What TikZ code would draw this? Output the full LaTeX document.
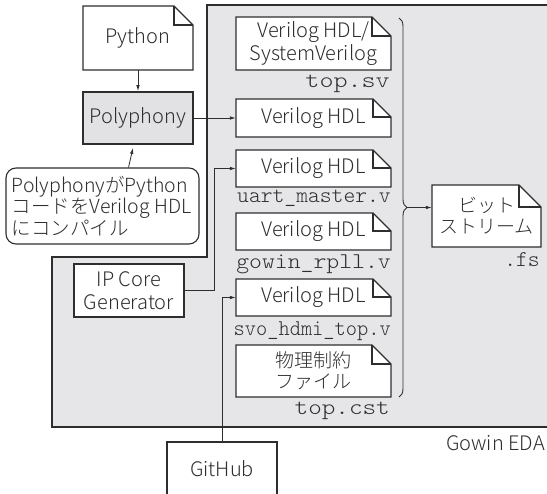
\documentclass[tikz,border=0pt]{standalone}
\usepackage{fontspec}
\setmainfont{Noto Sans CJK JP}[UprightFont=* Light]
\setmonofont{lmmonolt10-regular.otf}
\usetikzlibrary{arrows.meta,decorations.pathreplacing,calc}
\definecolor{edagray}{HTML}{E6E6E8}
\definecolor{polygray}{HTML}{E2E2E4}
\definecolor{ink}{HTML}{2E2E2E}
\tikzset{
  txt/.style={text=ink, font=\fontsize{20}{23}\selectfont, align=center, inner sep=0pt},
  jtxt/.style={text=ink, font=\fontsize{19}{21}\selectfont, align=center, inner sep=0pt},
  mono/.style={text=ink, font=\ttfamily\fontsize{22.5}{24}\selectfont, inner sep=0pt},
  docline/.style={draw=ink, line width=1.1pt, line join=miter},
  boxnode/.style={draw=ink, line width=1.3pt, fill=white},
  conn/.style={draw=ink, line width=0.8pt, -{Latex[length=6pt,width=3.6pt]}},
}
% #1 name, #2 cx, #3 cy, #4 w, #5 h, #6 fold, #7 style, #8 text
\newcommand\docnode[8]{%
  \path[docline, fill=white] ({#2-#4/2},{#3-#5/2}) -- ({#2+#4/2-#6},{#3-#5/2})
     -- ({#2+#4/2},{#3-#5/2+#6}) -- ({#2+#4/2},{#3+#5/2}) -- ({#2-#4/2},{#3+#5/2}) -- cycle;
  \draw[docline] ({#2+#4/2-#6},{#3-#5/2}) -- ({#2+#4/2-#6},{#3-#5/2+#6}) -- ({#2+#4/2},{#3-#5/2+#6});
  \node[#7, minimum width=#4, minimum height=#5] (#1) at (#2,#3) {#8};
}
\begin{document}
\begin{tikzpicture}[x=1pt,y=-1pt]
\useasboundingbox (0,0) rectangle (547,494);
\clip (0,0) rectangle (547,494);
% Gowin EDA region
\path[fill=edagray, draw=ink, line width=1.6pt]
  (207,5) -- (560,5) -- (560,427) -- (52,427) -- (52,257) -- (207,257) -- cycle;
\node[txt, anchor=east] (eda) at (545,443) {Gowin EDA};

% left side
\docnode{py}{138}{38}{110}{64}{19}{txt}{Python}
\node[boxnode, fill=polygray, line width=1.8pt, minimum width=110, minimum height=52, txt] (poly) at (138,118) {Polyphony};
\node[draw=ink, line width=1.1pt, rounded corners=10pt, fill=white, minimum width=193, minimum height=76] (call) at (102.5,206) {};
\node[txt, anchor=west, align=left, font=\fontsize{19.5}{20}\selectfont] at (call.west) {\hspace{6pt}PolyphonyがPython\\\hspace{6pt}コードをVerilog HDL\\\hspace{6pt}にコンパイル};
\node[boxnode, minimum width=110, minimum height=53, txt] (ip) at (129,290.5) {IP Core\\Generator};
\node[boxnode, minimum width=110, minimum height=54, txt] (gh) at (222,469) {GitHub};

% files
\docnode{d1}{313.5}{43.5}{155}{53}{19}{txt}{Verilog HDL/\\SystemVerilog}
\docnode{d2}{313.5}{118}{155}{38}{18}{txt}{Verilog HDL}
\docnode{d3}{313.5}{168.5}{155}{37}{18}{txt}{Verilog HDL}
\docnode{d4}{313.5}{231.5}{155}{37}{18}{txt}{Verilog HDL}
\docnode{d5}{313.5}{297.5}{155}{37}{18}{txt}{Verilog HDL}
\docnode{d6}{313.5}{371}{155}{52}{19}{jtxt}{物理制約\\ファイル}
\docnode{bit}{486.5}{216}{109}{62}{22}{jtxt}{ビット\\ストリーム}

% file name labels
\node[mono, anchor=base east] (l1) at (390,88) {\scalebox{1.19}[1]{top.sv}};
\node[mono, anchor=base east] (l3) at (391,203) {uart\_master.v};
\node[mono, anchor=base east] (l4) at (391,269) {\scalebox{1.09}[1]{gowin\_rpll.v}};
\node[mono, anchor=base east] (l5) at (391,336) {\scalebox{0.95}[1]{svo\_hdmi\_top.v}};
\node[mono, anchor=base east] (l6) at (390,415) {\scalebox{1.15}[1]{top.cst}};
\node[mono, anchor=base east] (l7) at (540,267) {.fs};

% brace
\draw[ink, line width=0.9pt, decorate, decoration={brace, amplitude=8pt}] (399,18) -- (399,397);
\coordinate (bt) at (407,207.5);

% connectors
\draw[conn] (py.south) -- (poly.north);
\draw[conn] (poly.east) -- (d2.west);
\draw[conn] ([xshift=26pt]call.north) -- ([xshift=-5pt,yshift=-3pt]poly.south);
\draw[conn] (ip.east) -- ++(30,0) |- (d3.west);
\draw[conn] (gh.north) |- (d5.west);
\draw[conn] (bt) -- (bt -| bit.west);
\end{tikzpicture}
\end{document}
